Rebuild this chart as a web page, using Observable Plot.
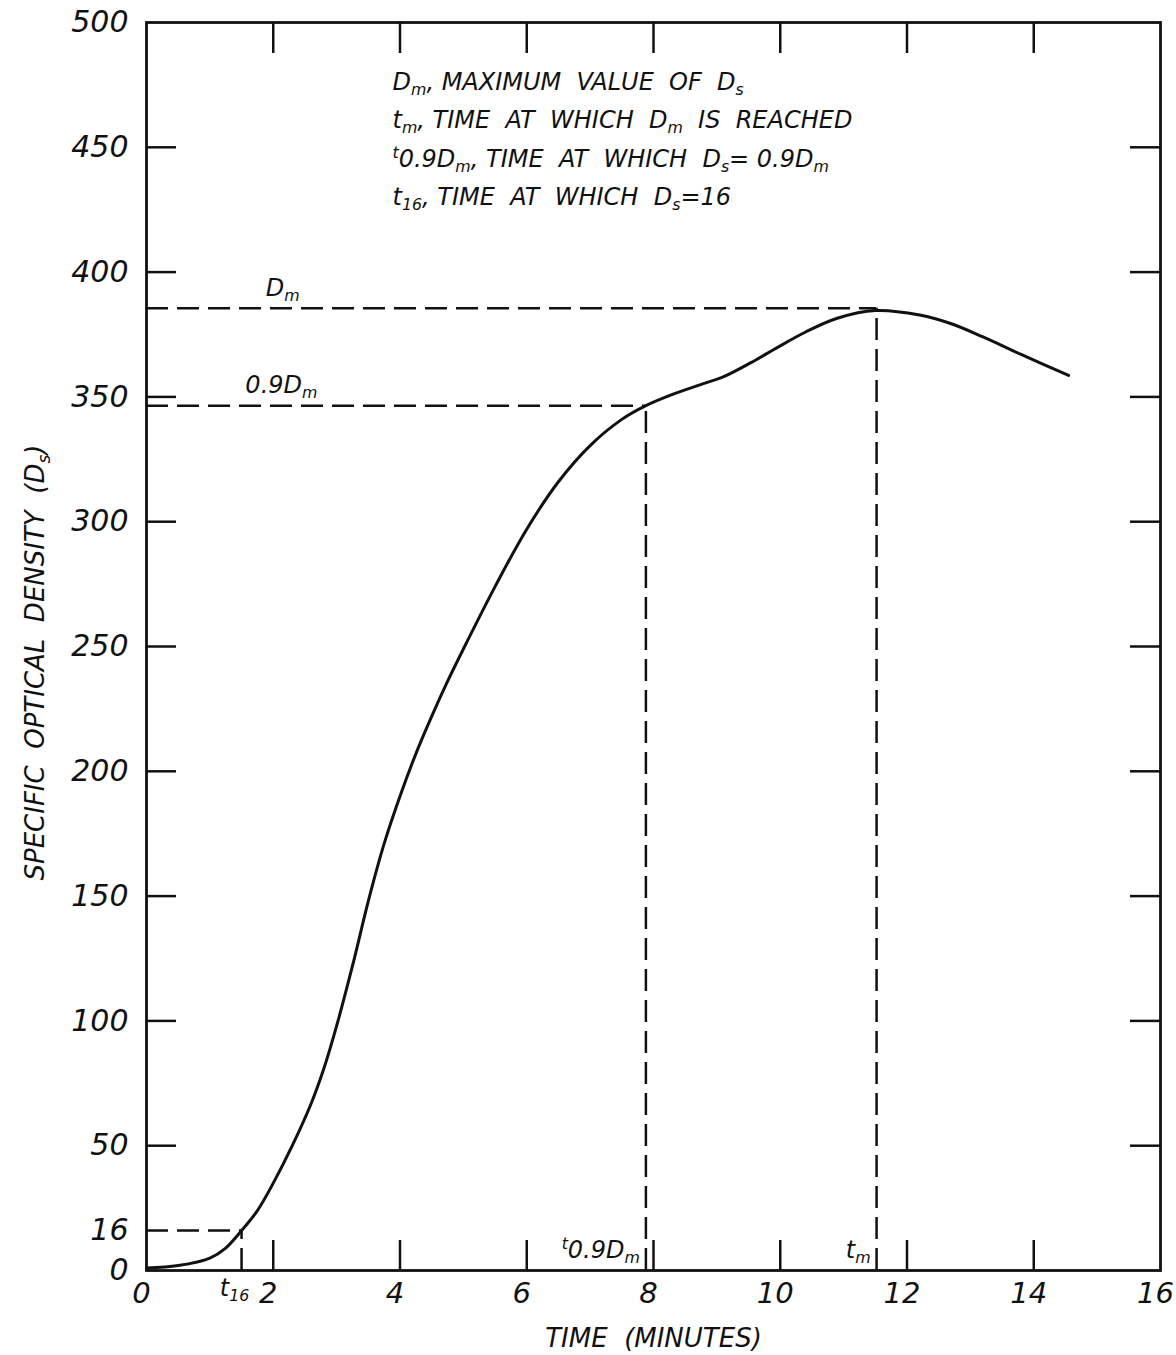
<!DOCTYPE html>
<html><head><meta charset="utf-8">
<script src="https://cdn.jsdelivr.net/npm/d3@7"></script>
<script src="https://cdn.jsdelivr.net/npm/@observablehq/plot@0.6"></script>
<style>
html,body{margin:0;padding:0;background:#fff;}
svg text{white-space:pre;}
</style>
</head><body><div id="chart"></div>
<script>
// ---- data ----
const timeMin = [0, 0.5, 1.0, 1.25, 1.5, 1.75, 2.0, 2.3, 2.6, 2.8, 3.0, 3.25, 3.5, 3.75, 4.0, 4.25, 4.5, 4.75, 5.0, 5.5, 6.0, 6.5, 7.0, 7.5, 7.88, 8.3, 8.8, 9.1, 9.6, 9.9, 10.4, 10.9, 11.5, 12.2, 12.7, 13.2, 13.8, 14.55];
const density = [1, 2, 5, 9, 16, 24, 35, 50, 67, 81, 98, 122, 148, 171, 190, 207, 222, 236, 249, 274, 297, 316, 330.5, 341, 346.5, 351, 355.4, 358, 364.6, 369, 376, 381.5, 384.6, 382.8, 379.3, 374, 367, 358.6];

const xDomain = [0, 16];
const yDomain = [0, 500];
const xLabelTicks = [0, 2, 4, 6, 8, 10, 12, 14, 16];
const yLabelTicks = [0, 16, 50, 100, 150, 200, 250, 300, 350, 400, 450, 500];
const xInnerTicks = [2, 4, 6, 8, 10, 12, 14];
const yInnerTicks = [50, 100, 150, 200, 250, 300, 350, 400, 450];

// reference points: t16, t0.9Dm, tm
const refTimes = [1.5, 7.88, 11.52];
const refValues = [16, 346.5, 385.5];
const refTimeLabels = ["t_{16}", "^{t}0.9D_{m}", "t_{m}"];
const refLevelLabels = ["", "0.9D_{m}", "D_{m}"];
const refLevelLabelTimes = [0, 1.56, 1.88];

const noteLines = [
  "D_{m}, MAXIMUM  VALUE  OF  D_{s}",
  "t_{m}, TIME  AT  WHICH  D_{m}  IS  REACHED",
  "^{t}0.9D_{m}, TIME  AT  WHICH  D_{s}= 0.9D_{m}",
  "t_{16}, TIME  AT  WHICH  D_{s}=16"
];
const xTitle = "TIME  (MINUTES)";
const yTitle = "SPECIFIC  OPTICAL  DENSITY  (D_{s})";

// ---- tables ----
const curve = timeMin.map((t, i) => ({t, d: density[i]}));
const refs = refTimes.map((t, i) => ({t, d: refValues[i], tl: refTimeLabels[i], ll: refLevelLabels[i], lt: refLevelLabelTimes[i]}));

const W = 1176, H = 1355, mL = 146, mR = 16, mT = 22, mB = 85;
const innerW = W - mL - mR, innerH = H - mT - mB;
const ink = "#111";
const dash = "22,9";

const chart = Plot.plot({
  width: W, height: H,
  marginLeft: mL, marginRight: mR, marginTop: mT, marginBottom: mB,
  x: {domain: xDomain},
  y: {domain: yDomain},
  style: {fontFamily: "'DejaVu Sans', sans-serif", fontStyle: "italic", fontSize: "30px", background: "#fff", color: ink},
  marks: [
    Plot.ruleY(refs, {y: "d", x1: () => xDomain[0], x2: "t", stroke: ink, strokeWidth: 2.5, strokeDasharray: dash}),
    Plot.ruleX(refs, {x: "t", y1: () => yDomain[0], y2: "d", stroke: ink, strokeWidth: 2.5, strokeDasharray: dash}),
    Plot.tickY(yInnerTicks, {y: d => d, insetRight: innerW - 30, stroke: ink, strokeWidth: 2.5}),
    Plot.tickY(yInnerTicks, {y: d => d, insetLeft: innerW - 30, stroke: ink, strokeWidth: 2.5}),
    Plot.tickX(xInnerTicks, {x: d => d, insetBottom: innerH - 31, stroke: ink, strokeWidth: 2.5}),
    Plot.tickX(xInnerTicks, {x: d => d, insetTop: innerH - 30, stroke: ink, strokeWidth: 2.5}),
    Plot.line(curve, {x: "t", y: "d", curve: "catmull-rom", stroke: ink, strokeWidth: 3}),
    Plot.frame({stroke: ink, strokeWidth: 2.8}),
    Plot.axisX({ticks: xLabelTicks, tickSize: 0, tickPadding: 12, label: null, fill: ink, fontSize: 29, dx: -5}),
    Plot.axisY({ticks: yLabelTicks, tickSize: 0, tickPadding: 18, label: null, fill: ink}),
    // level labels above dashed lines
    Plot.text(refs.filter(r => r.ll), {x: "lt", y: "d", text: "ll", textAnchor: "start", lineAnchor: "middle", dy: -20, fontSize: 24, fill: ink}),
    // time labels
    Plot.text(refs.slice(0, 1), {x: "t", y: () => yDomain[0], text: "tl", textAnchor: "middle", lineAnchor: "top", dx: -7, dy: 8, fontSize: 24, fill: ink}),
    Plot.text(refs.slice(1), {x: "t", y: () => yDomain[0], text: "tl", textAnchor: "end", lineAnchor: "middle", dx: -6, dy: -20, fontSize: 24, fill: ink}),
    // definitions block
    Plot.text([noteLines.join("\n")], {frameAnchor: "top-left", text: d => d, textAnchor: "start", lineAnchor: "top", dx: 246, dy: 40, lineHeight: 1.6, fontSize: 24, fill: ink, letterSpacing: 2.3}),
    // axis titles
    Plot.text([xTitle], {frameAnchor: "bottom", text: d => d, textAnchor: "middle", lineAnchor: "middle", dy: 68, fontSize: 26, fill: ink}),
    Plot.text([yTitle], {frameAnchor: "left", text: d => d, textAnchor: "middle", lineAnchor: "middle", rotate: -90, dx: -111, dy: 16, fontSize: 26, fill: ink})
  ]
});

document.getElementById("chart").appendChild(chart);

// render D_{m}, t_{16}, ^{t} notation as real sub/superscript tspans
(function richify(root) {
  const ns = "http://www.w3.org/2000/svg";
  const els = Array.from(root.querySelectorAll("text, tspan"))
    .filter(e => e.children.length === 0 && /[_^]\{/.test(e.textContent));
  for (const el of els) {
    const fs = parseFloat(getComputedStyle(el).fontSize) || 24;
    const s = el.textContent;
    el.textContent = "";
    const re = /([_^])\{([^}]*)\}|([^_^]+)/g;
    let m;
    while ((m = re.exec(s))) {
      if (m[3] !== undefined) {
        el.appendChild(document.createTextNode(m[3]));
      } else {
        const t = document.createElementNS(ns, "tspan");
        t.textContent = m[2];
        t.setAttribute("font-size", (fs * 0.66).toFixed(1) + "px");
        t.setAttribute("baseline-shift", m[1] === "_" ? (-0.22 * fs).toFixed(1) : (0.36 * fs).toFixed(1));
        el.appendChild(t);
      }
    }
  }
})(chart);
</script></body></html>
